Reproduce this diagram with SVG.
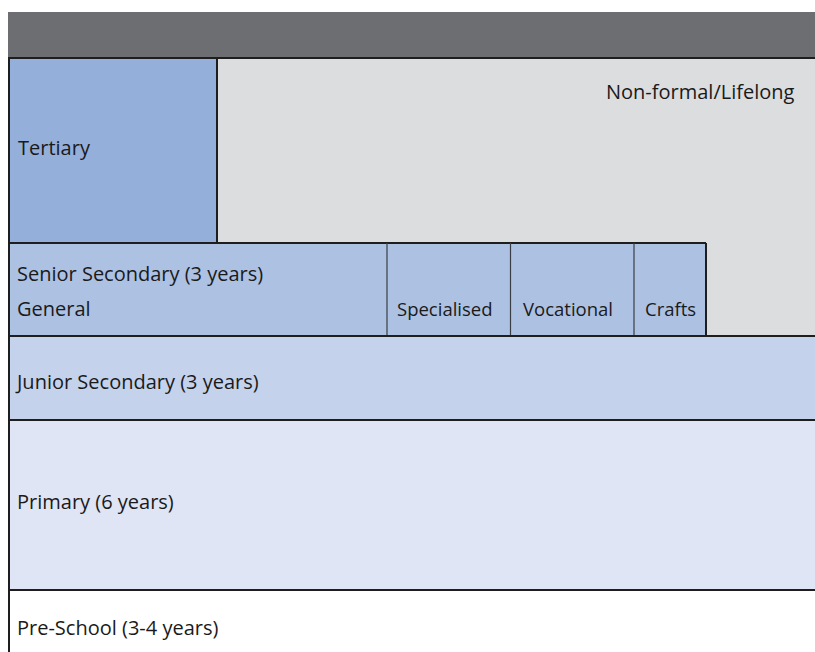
<svg xmlns="http://www.w3.org/2000/svg" width="815" height="652" viewBox="0 0 815 652">
<style>
text{font-family:"Open Sans","Liberation Sans",sans-serif;font-size:20px;fill:#1a1a1a}
.s{font-size:18.5px}
.b{stroke:#1e1e1e;stroke-width:2}
.t{stroke:#3a3d45;stroke-width:1.2}
</style>
<rect x="0" y="0" width="815" height="652" fill="#ffffff"/>
<g id="header"><rect x="8" y="12" width="807" height="45" fill="#6d6e72"/></g>
<g id="nonformal"><rect x="217" y="58" width="598" height="278" fill="#dcdddf"/><text x="606" y="99">Non-formal/Lifelong</text></g>
<g id="tertiary"><rect x="9" y="58" width="208" height="185" fill="#95afdb"/><text x="18" y="155">Tertiary</text></g>
<g id="senior"><rect x="9" y="243" width="697" height="93" fill="#adc1e3"/><text x="17" y="281">Senior Secondary (3 years)</text><text x="17" y="316">General</text></g>
<g id="specialised"><text class="s" x="397" y="316">Specialised</text></g>
<g id="vocational"><text class="s" x="523" y="316">Vocational</text></g>
<g id="crafts"><text class="s" x="645" y="316">Crafts</text></g>
<g id="junior"><rect x="9" y="336" width="806" height="84" fill="#c5d2ec"/><text x="17" y="389">Junior Secondary (3 years)</text></g>
<g id="primary"><rect x="9" y="420" width="806" height="170" fill="#dfe5f4"/><text x="17" y="509">Primary (6 years)</text></g>
<g id="preschool"><rect x="9" y="590" width="806" height="62" fill="#ffffff"/><text x="17" y="635">Pre-School (3-4 years)</text></g>
<g id="connectors" fill="none">
<line class="b" x1="8" y1="58" x2="815" y2="58"/>
<line class="b" x1="9" y1="57" x2="9" y2="652"/>
<line class="b" x1="217" y1="58" x2="217" y2="243"/>
<line class="b" x1="9" y1="243" x2="706" y2="243"/>
<line class="b" x1="706" y1="243" x2="706" y2="336"/>
<line class="t" x1="387" y1="243" x2="387" y2="336"/>
<line class="t" x1="510.5" y1="243" x2="510.5" y2="336"/>
<line class="t" x1="634" y1="243" x2="634" y2="336"/>
<line class="b" x1="9" y1="336" x2="815" y2="336"/>
<line class="b" x1="9" y1="420" x2="815" y2="420"/>
<line class="b" x1="9" y1="590" x2="815" y2="590"/>
</g>
</svg>
